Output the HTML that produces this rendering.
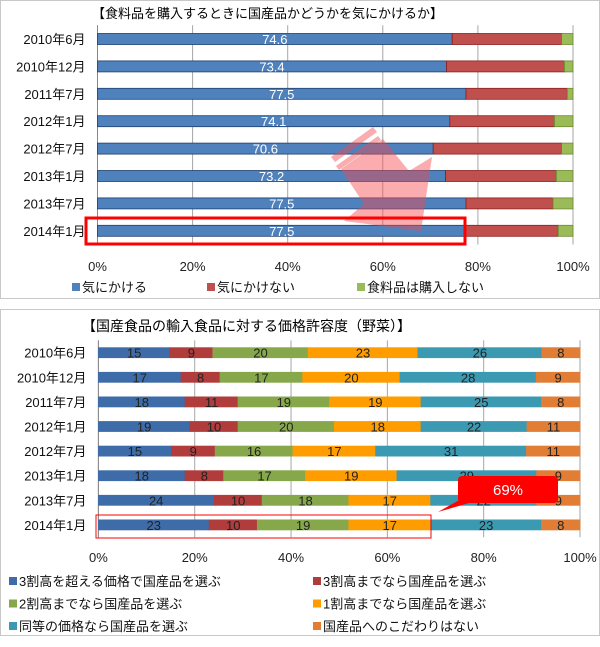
<!DOCTYPE html>
<html><head><meta charset="utf-8">
<style>
html,body{margin:0;padding:0;background:#fff;}
svg{display:block;font-family:"Liberation Sans","Noto Sans CJK JP",sans-serif;}
</style></head>
<body>
<svg id="s" width="600" height="647" viewBox="0 0 600 647" xmlns="http://www.w3.org/2000/svg">
<rect x="0.5" y="0.5" width="599" height="298" fill="#fff" stroke="#c8c8c8"/>
<rect x="0.5" y="309.5" width="599" height="326" fill="#fff" stroke="#c8c8c8"/>
<text x="92" y="18" font-size="13">【食料品を購入するときに国産品かどうかを気にかけるか】</text>
<text x="82" y="331" font-size="14">【国産食品の輸入食品に対する価格許容度（野菜）】</text>
<g id="topChart"></g>
<g id="botChart"></g>
</svg>
<script>
const cats = ["2010年6月","2010年12月","2011年7月","2012年1月","2012年7月","2013年1月","2013年7月","2014年1月"];
const ticks = ["0%","20%","40%","60%","80%","100%"];
const topCare = [74.6,73.4,77.5,74.1,70.6,73.2,77.5,77.5];
const topNoCare = [23.0,24.8,21.3,22.0,27.0,23.3,18.3,19.4];
const topNoBuy = [2.4,1.8,1.2,3.9,2.4,3.5,4.2,3.1];
const topSeriesNames = ["気にかける","気にかけない","食料品は購入しない"];
const b30 = [15,17,18,19,15,18,24,23];
const b20p = [9,8,11,10,9,8,10,10];
const b20 = [20,17,19,20,16,17,18,19];
const b10 = [23,20,19,18,17,19,17,17];
const bSame = [26,28,25,22,31,29,22,23];
const bNone = [8,9,8,11,11,9,9,8];
const botSeriesNames = ["3割高を超える価格で国産品を選ぶ","3割高までなら国産品を選ぶ","2割高までなら国産品を選ぶ","1割高までなら国産品を選ぶ","同等の価格なら国産品を選ぶ","国産品へのこだわりはない"];
const callout = "69%";

const NS="http://www.w3.org/2000/svg";
function mk(tag,attrs,parent,txt){const e=document.createElementNS(NS,tag);for(const k in attrs)e.setAttribute(k,attrs[k]);if(txt!==undefined)e.textContent=txt;parent.appendChild(e);return e;}

function drawChart(g,x0,x1,yFirst,yStep,barH,series,colors,strokes,labelSeries,labelFn,tickY,fs){
  const xs=v=>x0+(x1-x0)*v/100;
  const yc=i=>yFirst+yStep*i;
  for(let t=0;t<ticks.length;t++){
    const x=xs(t*20);
    const ln=mk('line',{x1:x,x2:x,y1:yc(0)-yStep/2,y2:yc(cats.length-1)+yStep/2,stroke:'#a6a6a6','stroke-width':1},g);
    
    
    const tx=mk('text',{x:x,y:tickY,'font-size':fs,'text-anchor':'middle',fill:'#222'},g,ticks[t]);
    
    
  }
  const ax=mk('line',{x1:x0,x2:x0,y1:yc(0)-yStep/2,y2:yc(cats.length-1)+yStep/2,stroke:'#888'},g);
  
  
  for(let i=0;i<cats.length;i++){
    const cl=mk('text',{x:x0-12,y:yc(i)+5,'font-size':fs,'text-anchor':'end',fill:'#111'},g,cats[i]);
    
    
    let tot=0;for(const s of series)tot+=s[i];
    let acc=0;
    for(let k=0;k<series.length;k++){
      const v=series[k][i]*100/tot;
      const r=mk('rect',{x:xs(acc),y:yc(i)-barH/2,width:xs(acc+v)-xs(acc),height:barH,fill:colors[k],stroke:strokes[k],'stroke-width':0.8},g);
      
      
      if(labelSeries.includes(k)){
        const t=mk('text',{x:xs(acc+v/2),y:yc(i)+5,'font-size':fs,'text-anchor':'middle',fill:labelFn(k)},g,series[k][i]);
        
        
      }
      acc+=v;
    }
  }
}
const topG=document.getElementById('topChart');
drawChart(topG,97.5,573,39,27.4,11,[topCare,topNoCare,topNoBuy],['#4f81bd','#c0504d','#9bbb59'],['#1f3f6f','#8b2020','#6b8b30'],[0],()=>'#fff',271,13);
const botG=document.getElementById('botChart');
drawChart(botG,98.4,580,352.7,24.6,10,[b30,b20p,b20,b10,bSame,bNone],['#3e6ca9','#b03c3c','#86a84a','#ff9c00','#3b9ab2','#e27d36'],['#3e6ca9','#b03c3c','#86a84a','#ff9c00','#3b9ab2','#e27d36'],[0,1,2,3,4,5],()=>'#222',562,13);

function legend(g,x,y,color,label,fs){
  const r=mk('rect',{x:x,y:y-9,width:8,height:8,fill:color},g);
  
  
  const t=mk('text',{x:x+10,y:y,'font-size':fs,fill:'#111'},g,label);
  
  
}
legend(topG,72,292,'#4f81bd',topSeriesNames[0],13);
legend(topG,207,292,'#c0504d',topSeriesNames[1],13);
legend(topG,357,292,'#9bbb59',topSeriesNames[2],13);
const bc=['#3e6ca9','#b03c3c','#86a84a','#ff9c00','#3b9ab2','#e27d36'];
for(let k=0;k<6;k++){legend(botG,k%2?313:9,586+Math.floor(k/2)*22.5,bc[k],botSeriesNames[k],13);}

const svgEl=document.getElementById('s');
const arrow=mk('g',{opacity:0.45},svgEl);


mk('polygon',{points:'341,169 383,139 409,171 432,157 421,231 344,221 364,204',fill:'#f4484e'},arrow);
mk('polygon',{points:'331,157 373,127 377,132 335,162',fill:'#f4484e'},arrow);
mk('polygon',{points:'336,166 378,136 381,140 339,170',fill:'#f4484e'},arrow);
const hb=mk('rect',{x:86,y:218,width:379,height:26,fill:'none',stroke:'#f00','stroke-width':3},svgEl);


const hb2=mk('rect',{x:96,y:515,width:335,height:23,fill:'none',stroke:'#f00','stroke-width':1},svgEl);


const co=mk('g',{},svgEl);


mk('polygon',{points:'470,494 500,494 438,512',fill:'#f00'},co);
mk('rect',{x:458,y:476,width:100,height:27,rx:4,fill:'#f00'},co);
mk('text',{x:508,y:495,'font-size':15,'text-anchor':'middle',fill:'#fff'},co,callout);
</script>
</body></html>
